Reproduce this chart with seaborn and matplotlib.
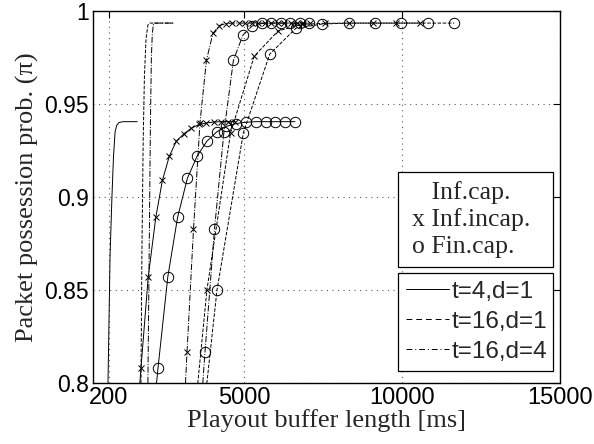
import seaborn as sns
import matplotlib.pyplot as plt
from matplotlib.lines import Line2D
import pandas as pd

# t=4, d=1 (solid)
t4_infcap_x = [675, 740, 800, 850, 900, 950, 1020, 1150, 1600]
t4_infcap_y = [0.800, 0.868, 0.900, 0.922, 0.935, 0.9385, 0.9400, 0.9405, 0.9405]
t4_incap_x = [1490, 1720, 1950, 2190, 2400, 2620, 2840, 3080, 3320, 3560, 3790, 4020, 4250, 4480, 4710]
t4_incap_y = [0.755, 0.808, 0.857, 0.889, 0.909, 0.922, 0.930, 0.934, 0.937, 0.939, 0.9398, 0.9403, 0.9405, 0.9405, 0.9405]
t4_fin_x = [1950, 2260, 2570, 2880, 3190, 3500, 3810, 4120, 4430, 4740, 5050, 5360, 5670, 5980, 6290, 6600]
t4_fin_y = [0.755, 0.808, 0.857, 0.889, 0.910, 0.922, 0.930, 0.935, 0.938, 0.9395, 0.9402, 0.9405, 0.9405, 0.9405, 0.9405, 0.9405]

# t=16, d=1 (dashed)
t16d1_infcap_x = [1720, 1750, 1790, 1830, 1880, 1940, 2000, 2740]
t16d1_infcap_y = [0.800, 0.870, 0.930, 0.965, 0.985, 0.9925, 0.9935, 0.9935]
t16d1_incap_x = [3060, 3810, 4560, 5310, 6060, 6810, 7560, 8310, 9060, 9810, 10560]
t16d1_incap_y = [0.720, 0.850, 0.9345, 0.9757, 0.9892, 0.9928, 0.9934, 0.9935, 0.9935, 0.9935, 0.9935]
t16d1_fin_x = [3295, 4130, 4965, 5800, 6635, 7470, 8305, 9140, 9975, 10810, 11645]
t16d1_fin_y = [0.720, 0.850, 0.9345, 0.9768, 0.9908, 0.9930, 0.9935, 0.9935, 0.9935, 0.9935, 0.9935]

# t=16, d=4 (dash-dot)
t16d4_infcap_x = [1940, 1980, 2020, 2050, 2080, 2120, 2740]
t16d4_infcap_y = [0.800, 0.870, 0.940, 0.975, 0.988, 0.9935, 0.9935]
t16d4_incap_x = [2975, 3180, 3385, 3590, 3795, 4000, 4205, 4410, 4615, 4820, 5025, 5230, 5435,
                 5640, 5845, 6050, 6255, 6460, 6665, 6870, 7075]
t16d4_incap_y = [0.745, 0.8168, 0.8827, 0.940, 0.9735, 0.988, 0.9922, 0.9932, 0.9935, 0.9935, 0.9935,
                 0.9935, 0.9935, 0.9935, 0.9935, 0.9935, 0.9935, 0.9935, 0.9935, 0.9935, 0.9935]
t16d4_fin_x = [3450, 3750, 4050, 4350, 4650, 4950, 5250, 5550, 5850, 6150, 6450, 6750, 7050]
t16d4_fin_y = [0.745, 0.8168, 0.8827, 0.935, 0.9735, 0.987, 0.992, 0.9933, 0.9935, 0.9935, 0.9935, 0.9935, 0.9935]

x_ticks = [700, 5000, 10000, 15000]
x_tick_labels = ['200', '5000', '10000', '15000']
y_ticks = [0.8, 0.85, 0.9, 0.95, 1.0]
y_tick_labels = ['0.8', '0.85', '0.9', '0.95', '1']
config_labels = ['t=4,d=1', 't=16,d=1', 't=16,d=4']
model_labels = ['   Inf.cap.', 'x Inf.incap.', 'o Fin.cap.']

sns.set_style('white')
sans = 'Liberation Sans'
serif = 'Liberation Serif'
plt.rcParams['font.family'] = [sans, 'DejaVu Sans']

styles = {
    'solid': dict(linestyle='-'),
    'dashed': dict(linestyle='--', dashes=(6, 4)),
    'dashdot': dict(linestyle='-.', dashes=(6, 3, 1, 3)),
}

curves = [
    (t4_infcap_x, t4_infcap_y, 'solid', None),
    (t4_incap_x, t4_incap_y, 'solid', 'x'),
    (t4_fin_x, t4_fin_y, 'solid', 'o'),
    (t16d1_infcap_x, t16d1_infcap_y, 'dashed', None),
    (t16d1_incap_x, t16d1_incap_y, 'dashed', 'x'),
    (t16d1_fin_x, t16d1_fin_y, 'dashed', 'o'),
    (t16d4_infcap_x, t16d4_infcap_y, 'dashdot', None),
    (t16d4_incap_x, t16d4_incap_y, 'dashdot', 'x'),
    (t16d4_fin_x, t16d4_fin_y, 'dashdot', 'o'),
]

fig = plt.figure(figsize=(5.94, 4.44), dpi=100)
ax = fig.add_axes([93 / 594, 61 / 444, 467 / 594, 372 / 444])

for xs, ys, st, mk in curves:
    df = pd.DataFrame({'x': xs, 'y': ys})
    kw = dict(styles[st])
    if mk == 'x':
        kw.update(marker='x', markersize=5, markeredgewidth=0.7, markeredgecolor='k')
    elif mk == 'o':
        kw.update(marker='o', markersize=7.5, markerfacecolor='none', markeredgewidth=0.7,
                  markeredgecolor='k')
    sns.lineplot(data=df, x='x', y='y', ax=ax, color='k', linewidth=0.7, **kw)

ax.set_xlim(200, 15000)
ax.set_ylim(0.8, 1.0)
ax.set_xticks(x_ticks)
ax.set_xticklabels(x_tick_labels)
ax.set_yticks(y_ticks)
ax.set_yticklabels(y_tick_labels)
ax.tick_params(direction='in', top=True, right=True, length=5, width=0.8,
               labelsize=17, pad=3, colors='k')
ax.tick_params(axis='y', labelsize=16.5)
ax.grid(True, linestyle=(0, (1, 4)), color='0.35', linewidth=0.8)
for s in ax.spines.values():
    s.set_linewidth(1.0)
    s.set_color('k')

ax.set_xlabel('Playout buffer length [ms]', family=serif, fontsize=19, labelpad=0)
ax.set_ylabel('Packet possession prob. (\u03c0)', family=serif, fontsize=19, labelpad=4)

# legend of models (text only)
blank = [Line2D([], [], linestyle='none') for _ in model_labels]
leg1 = ax.legend(blank, model_labels, loc='upper left', bbox_to_anchor=(0.653, 0.320, 0.332, 0.247),
                 mode='expand', borderaxespad=0, handlelength=0, handletextpad=0.2,
                 borderpad=0.35, labelspacing=0.15,
                 fancybox=False, framealpha=1, edgecolor='k', prop={'family': serif, 'size': 18.5})
leg1.get_frame().set_linewidth(0.9)
ax.add_artist(leg1)

# legend of configurations
cfg_handles = [Line2D([], [], color='k', linewidth=0.7, **styles[s]) for s in ['solid', 'dashed', 'dashdot']]
leg2 = ax.legend(cfg_handles, config_labels, loc='upper left', bbox_to_anchor=(0.653, 0.040, 0.332, 0.256),
                 mode='expand', borderaxespad=0, handlelength=1.8, handletextpad=0.08,
                 borderpad=0.32, labelspacing=0.33,
                 fancybox=False, framealpha=1, edgecolor='k', prop={'family': sans, 'size': 17.5})
leg2.get_frame().set_linewidth(0.9)

fig.savefig('out.png', dpi=100)
